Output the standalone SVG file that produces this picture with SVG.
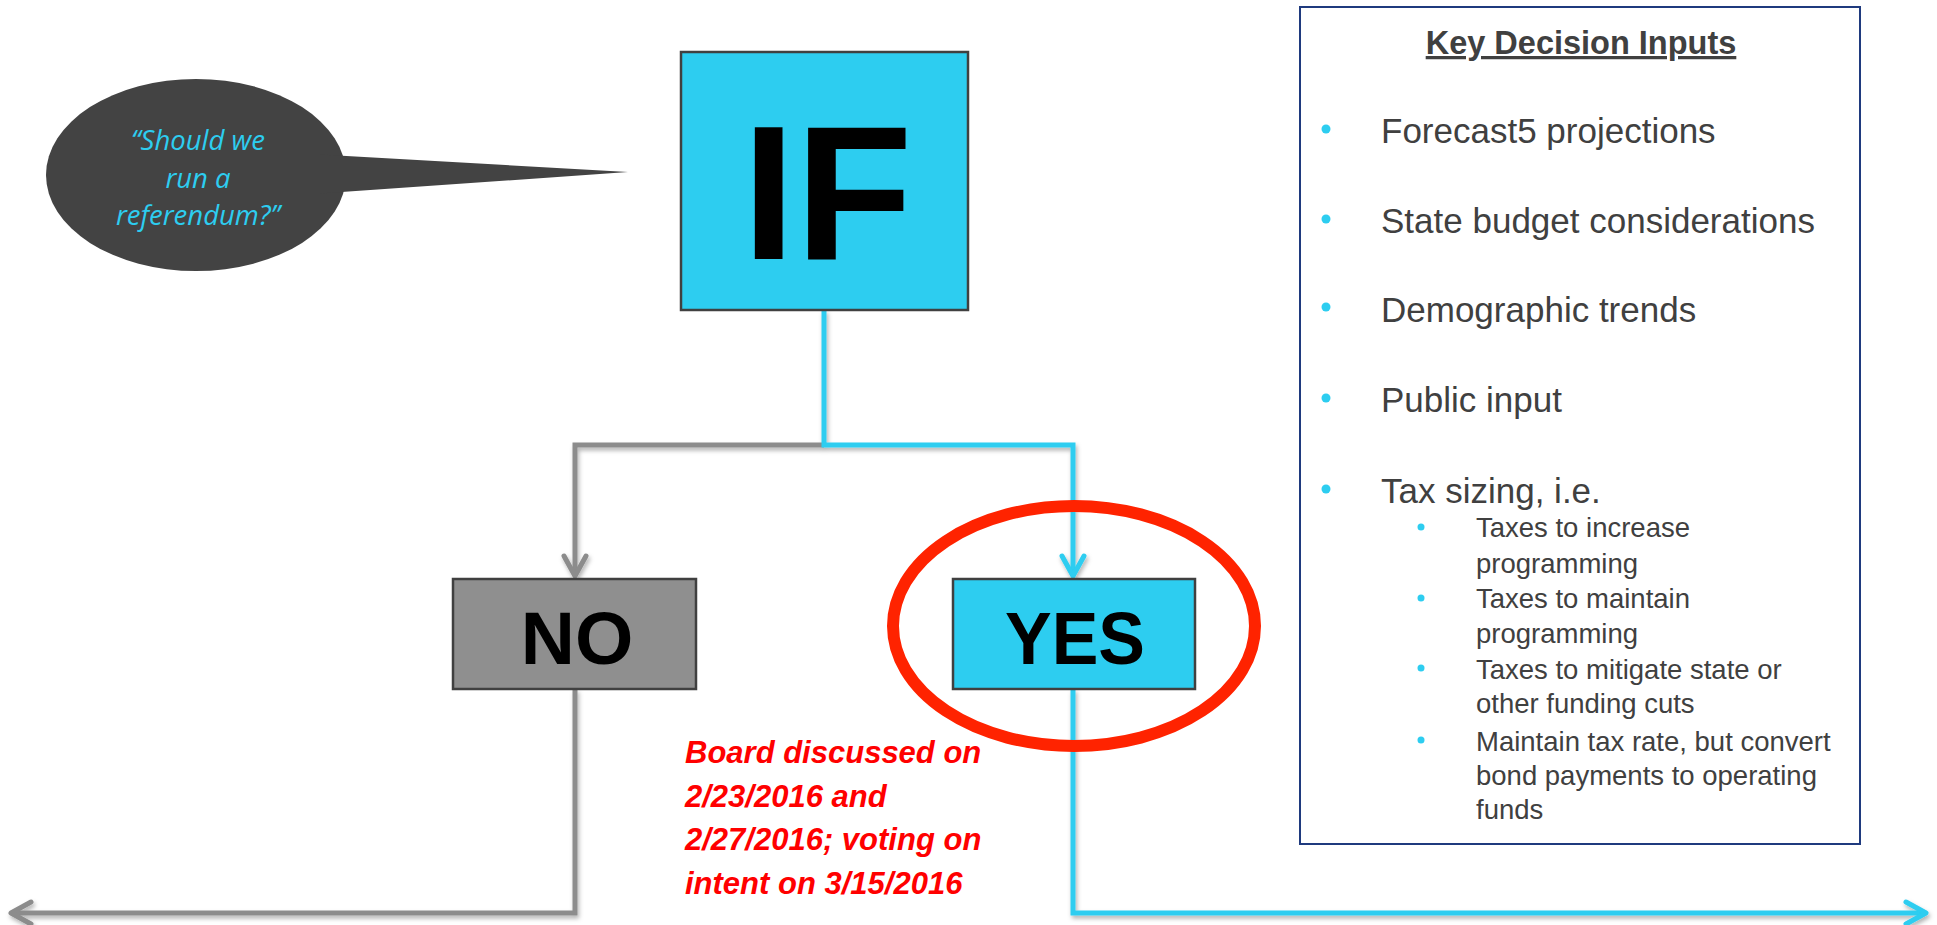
<svg xmlns="http://www.w3.org/2000/svg" width="1937" height="925" viewBox="0 0 1937 925">
  <style>
    .box-cyan { fill: #2DCDF0; stroke: #404040; stroke-width: 2.5; }
    .box-gray { fill: #8F8F8F; stroke: #404040; stroke-width: 2.5; }
    .label { font-family: "Liberation Sans", Arial, sans-serif; font-weight: bold; fill: #000; }
    .link { fill: none; stroke-width: 5; stroke-linejoin: miter; }
    .link-cyan { stroke: #2DCDF0; }
    .link-gray { stroke: #8C8C8C; }
    .quote { font-family: "Open Sans", "Liberation Sans", sans-serif; font-style: italic; font-size: 27.5px; fill: #2DCDF0; }
    .note { font-family: "Liberation Sans", Arial, sans-serif; font-weight: bold; font-style: italic; font-size: 31px; fill: #FF0000; }
    .panel-title { font-family: "Liberation Sans", Arial, sans-serif; font-weight: bold; font-size: 32.5px; fill: #404040; text-decoration: underline; }
    .item { font-family: "Liberation Sans", Arial, sans-serif; font-size: 35px; fill: #404040; }
    .subitem { font-family: "Liberation Sans", Arial, sans-serif; font-size: 27.5px; fill: #404040; }
    .dot { fill: #2DCDF0; }
  </style>
  <defs>
    <filter id="shadow" x="-5%" y="-5%" width="110%" height="110%">
      <feDropShadow dx="1.5" dy="3" stdDeviation="2" flood-color="#000" flood-opacity="0.3"/>
    </filter>
    <marker id="chev-cyan" markerUnits="userSpaceOnUse" markerWidth="40" markerHeight="40" viewBox="-30 -20 40 40" refX="0" refY="0" orient="auto" overflow="visible">
      <path d="M-20,-11 L0,0 L-20,11" fill="none" stroke="#2DCDF0" stroke-width="5" stroke-linecap="round" stroke-linejoin="round"/>
    </marker>
    <marker id="chev-gray" markerUnits="userSpaceOnUse" markerWidth="40" markerHeight="40" viewBox="-30 -20 40 40" refX="0" refY="0" orient="auto" overflow="visible">
      <path d="M-20,-11 L0,0 L-20,11" fill="none" stroke="#8C8C8C" stroke-width="5" stroke-linecap="round" stroke-linejoin="round"/>
    </marker>
  </defs>

  <rect x="0" y="0" width="1937" height="925" fill="#FFFFFF"/>

  <!-- connectors -->
  <g id="connectors" filter="url(#shadow)">
    <path class="link link-gray" d="M824,445 H575 V576" marker-end="url(#chev-gray)"/>
    <path class="link link-cyan" d="M824,310 V445 H1073 V576" marker-end="url(#chev-cyan)"/>
    <path class="link link-gray" d="M575,689 V913 H11" marker-end="url(#chev-gray)"/>
    <path class="link link-cyan" d="M1073,689 V913 H1926" marker-end="url(#chev-cyan)"/>
  </g>

  <!-- speech bubble -->
  <g id="bubble">
    <ellipse cx="196" cy="175" rx="150" ry="96" fill="#434343"/>
    <polygon points="320,154.5 628,172 320,193.5" fill="#434343"/>
    <text class="quote" text-anchor="middle" x="198" y="150">“Should we</text>
    <text class="quote" text-anchor="middle" x="198" y="187.5">run a</text>
    <text class="quote" text-anchor="middle" x="198" y="225">referendum?”</text>
  </g>

  <!-- decision node -->
  <g id="node-if">
    <rect class="box-cyan" x="681" y="52" width="287" height="258"/>
    <text class="label" x="742" y="259" font-size="192">IF</text>
  </g>

  <!-- outcome nodes -->
  <g id="node-no">
    <rect class="box-gray" x="453" y="579" width="243" height="110"/>
    <text class="label" x="577" y="664" font-size="75" text-anchor="middle">NO</text>
  </g>
  <g id="node-yes">
    <rect class="box-cyan" x="953" y="579" width="242" height="110"/>
    <text class="label" x="1075" y="664" font-size="75" text-anchor="middle" textLength="140" lengthAdjust="spacingAndGlyphs">YES</text>
  </g>

  <!-- highlight ring around YES -->
  <g id="highlight">
    <ellipse cx="1074" cy="626" rx="181" ry="120" fill="none" stroke="#FF2300" stroke-width="12"/>
  </g>

  <!-- board note -->
  <g id="note">
    <text class="note" x="685" y="763">Board discussed on</text>
    <text class="note" x="685" y="806.5">2/23/2016 and</text>
    <text class="note" x="685" y="850">2/27/2016; voting on</text>
    <text class="note" x="685" y="893.5">intent on 3/15/2016</text>
  </g>

  <!-- key decision inputs panel -->
  <g id="inputs-panel">
    <rect x="1300" y="7" width="560" height="837" fill="#FFFFFF" stroke="#1F3A7E" stroke-width="2"/>
    <text class="panel-title" x="1581" y="54" text-anchor="middle">Key Decision Inputs</text>

    <circle class="dot" cx="1326" cy="129" r="4.5"/>
    <text class="item" x="1381" y="143">Forecast5 projections</text>
    <circle class="dot" cx="1326" cy="219" r="4.5"/>
    <text class="item" x="1381" y="233">State budget considerations</text>
    <circle class="dot" cx="1326" cy="307" r="4.5"/>
    <text class="item" x="1381" y="322">Demographic trends</text>
    <circle class="dot" cx="1326" cy="398" r="4.5"/>
    <text class="item" x="1381" y="412">Public input</text>
    <circle class="dot" cx="1326" cy="489" r="4.5"/>
    <text class="item" x="1381" y="503">Tax sizing, i.e.</text>

    <circle class="dot" cx="1421" cy="527" r="3.5"/>
    <text class="subitem" x="1476" y="537">Taxes to increase</text>
    <text class="subitem" x="1476" y="573">programming</text>
    <circle class="dot" cx="1421" cy="598" r="3.5"/>
    <text class="subitem" x="1476" y="608">Taxes to maintain</text>
    <text class="subitem" x="1476" y="643">programming</text>
    <circle class="dot" cx="1421" cy="668" r="3.5"/>
    <text class="subitem" x="1476" y="679">Taxes to mitigate state or</text>
    <text class="subitem" x="1476" y="713">other funding cuts</text>
    <circle class="dot" cx="1421" cy="740" r="3.5"/>
    <text class="subitem" x="1476" y="751">Maintain tax rate, but convert</text>
    <text class="subitem" x="1476" y="785">bond payments to operating</text>
    <text class="subitem" x="1476" y="819">funds</text>
  </g>
</svg>
